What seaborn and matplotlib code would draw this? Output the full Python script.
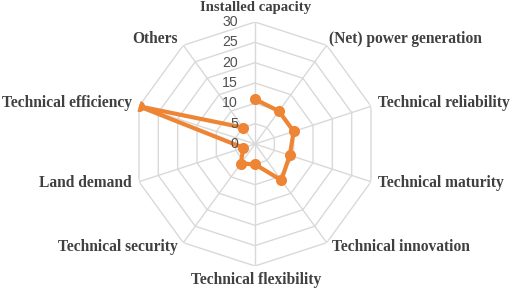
import numpy as np
import pandas as pd
import matplotlib
matplotlib.use("Agg")
import matplotlib.pyplot as plt
import seaborn as sns

categories = ["Installed capacity", "(Net) power generation", "Technical reliability",
              "Technical maturity", "Technical innovation", "Technical flexibility",
              "Technical security", "Land demand", "Technical efficiency", "Others"]
values = [11, 10, 10, 9, 11, 5, 6, 3, 30, 5]
tick_values = [0, 5, 10, 15, 20, 25, 30]

sns.set_style("white")
plt.rcParams['font.family'] = ['Liberation Serif', 'DejaVu Sans']

W, H = 512, 289
fig = plt.figure(figsize=(W / 100, H / 100), dpi=100)
cx, cy, R = 255, 144, 122
ax = fig.add_axes([(cx - R) / W, 1 - (cy + R) / H, 2 * R / W, 2 * R / H], projection="polar")
ax.set_theta_zero_location("N")
ax.set_theta_direction(-1)
ax.set_ylim(0, 30)
ax.grid(False)
ax.spines["polar"].set_visible(False)
ax.set_xticks([])
ax.set_yticks([])
ax.patch.set_alpha(0)

n = len(categories)
angles = np.arange(n) * 2 * np.pi / n

grid_col = "#D9D9D9"
closed = np.append(angles, angles[0])
for lv in tick_values[1:]:
    ax.plot(closed, [lv] * (n + 1), color=grid_col, lw=1.0, zorder=1)
for a in angles:
    ax.plot([a, a], [0, 30], color=grid_col, lw=1.0, zorder=1)

df = pd.DataFrame({"theta": np.append(angles, angles[0]),
                   "value": values + [values[0]]})
sns.lineplot(data=df, x="theta", y="value", sort=False, ax=ax, color="#EE8535",
             lw=3.0, marker="o", markersize=8, markeredgewidth=0, zorder=5)
ax.set_xlabel("")
ax.set_ylabel("")
ax.set_xticks([])
ax.set_yticks([])
ax.set_ylim(0, 30)

# radial tick labels
for v in tick_values:
    y_px = cy - v * R / 30
    fig.text(238 / W, 1 - y_px / H, str(v), ha="right", va="center",
             fontsize=10.2, color="#505050", family=["Liberation Sans"])

# category labels (pixel anchors)
label_pos = [
    (256, 39, "left"),
    (378, 103, "left"),
    (378, 183, "left"),
    (332, 247, "left"),
    (256, 280, "center"),
    (178, 247, "right"),
    (132, 183, "right"),
    (132, 103, "right"),
    (178, 39, "right"),
]
fig.text(256 / W, 1 - 0.5 / H, categories[0], ha="center", va="top", fontsize=10.6,
         fontweight="bold", color="#404040")
label_pos[0] = (329, 39, "left")
for cat, (x, y, ha) in zip(categories[1:], label_pos):
    fig.text(x / W, 1 - y / H, cat, ha=ha, va="center", fontsize=11.2,
             fontweight="bold", color="#404040")

fig.savefig("out.png", dpi=100)
